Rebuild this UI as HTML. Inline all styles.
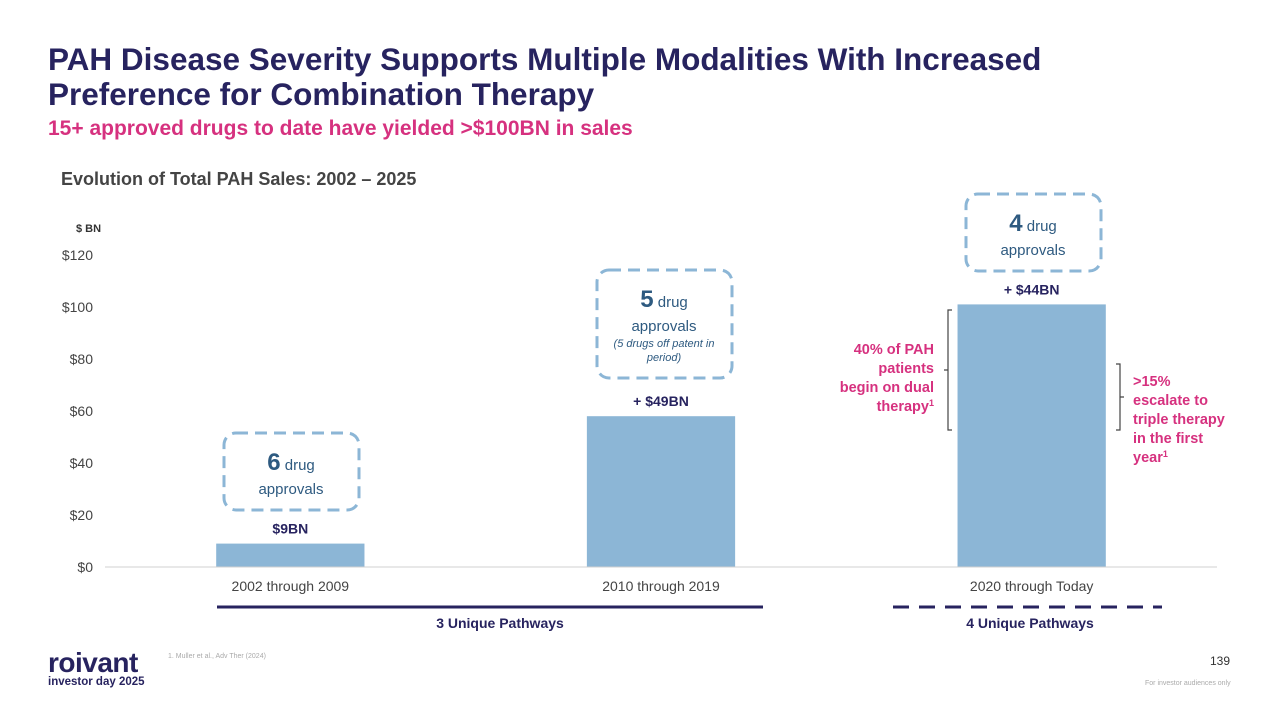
<!DOCTYPE html>
<html><head><meta charset="utf-8"><style>
body{margin:0;width:1280px;height:720px;background:#fff;font-family:"Liberation Sans",Arial,sans-serif;position:relative;overflow:hidden}
.a{position:absolute}
h1{position:absolute;left:48px;top:42px;margin:0;font-size:31.5px;line-height:35px;color:#27235f;font-weight:bold}
</style></head><body>
<h1>PAH Disease Severity Supports Multiple Modalities With Increased<br>Preference for Combination Therapy</h1>
<div class="a" style="left:48px;top:117px;font-size:21px;font-weight:bold;color:#d6317f">15+ approved drugs to date have yielded &gt;$100BN in sales</div>
<div class="a" style="left:61px;top:169px;font-size:18px;font-weight:bold;color:#444">Evolution of Total PAH Sales: 2002 – 2025</div>
<svg class="a" style="left:0;top:0" width="1280" height="720" id="chart" font-family="Liberation Sans, Arial, sans-serif">
<text x="76" y="232" font-size="11" font-weight="bold" fill="#333">$ BN</text>
<g id="yt"></g><g id="bars"></g>
<line x1="105" x2="1217" y1="567" y2="567" stroke="#d0d0d0"/>
<rect x="224" y="433" width="135" height="77" rx="12" fill="none" stroke="#8cb6d6" stroke-width="3" stroke-dasharray="12,7"/>
<text x="291" y="470" text-anchor="middle" fill="#2e5a80"><tspan font-size="24" font-weight="bold">6</tspan><tspan font-size="15"> drug</tspan><tspan x="291" dy="24" font-size="15">approvals</tspan></text>
<rect x="597" y="270" width="135" height="108" rx="12" fill="none" stroke="#8cb6d6" stroke-width="3" stroke-dasharray="12,7"/>
<text x="664" y="307" text-anchor="middle" fill="#2e5a80"><tspan font-size="24" font-weight="bold">5</tspan><tspan font-size="15"> drug</tspan><tspan x="664" dy="24" font-size="15">approvals</tspan><tspan x="664" dy="16" font-size="11" font-style="italic">(5 drugs off patent in</tspan><tspan x="664" dy="14" font-size="11" font-style="italic">period)</tspan></text>
<rect x="966" y="194" width="135" height="77" rx="12" fill="none" stroke="#8cb6d6" stroke-width="3" stroke-dasharray="12,7"/>
<text x="1033" y="231" text-anchor="middle" fill="#2e5a80"><tspan font-size="24" font-weight="bold">4</tspan><tspan font-size="15"> drug</tspan><tspan x="1033" dy="24" font-size="15">approvals</tspan></text>
<path d="M952 310 H948 V430 H952 M948 370 H944" fill="none" stroke="#444" stroke-width="1.2"/>
<path d="M1116 364 H1120 V430 H1116 M1120 397 H1124" fill="none" stroke="#444" stroke-width="1.2"/>
<text font-size="14.5" font-weight="bold" fill="#d6317f" text-anchor="end"><tspan x="934" y="354">40% of PAH</tspan><tspan x="934" dy="19">patients</tspan><tspan x="934" dy="19">begin on dual</tspan><tspan x="934" dy="19">therapy<tspan font-size="9" dy="-5">1</tspan></tspan></text>
<text font-size="14.5" font-weight="bold" fill="#d6317f"><tspan x="1133" y="386">&gt;15%</tspan><tspan x="1133" dy="19">escalate to</tspan><tspan x="1133" dy="19">triple therapy</tspan><tspan x="1133" dy="19">in the first</tspan><tspan x="1133" dy="19">year<tspan font-size="9" dy="-5">1</tspan></tspan></text>
<line x1="217" x2="763" y1="607" y2="607" stroke="#27235f" stroke-width="3"/>
<text x="500" y="628" text-anchor="middle" font-size="14" font-weight="bold" fill="#27235f">3 Unique Pathways</text>
<line x1="893" x2="1162" y1="607" y2="607" stroke="#27235f" stroke-width="3" stroke-dasharray="16,10"/>
<text x="1030" y="628" text-anchor="middle" font-size="14" font-weight="bold" fill="#27235f">4 Unique Pathways</text>
</svg>
<div class="a" style="left:48px;top:650px;color:#27235f;font-weight:bold">
<div style="font-size:28px;line-height:26px;letter-spacing:-0.5px">roivant</div>
<div style="font-size:11.5px;line-height:13px">investor day 2025</div></div>
<div class="a" style="left:168px;top:653px;font-size:7px;color:#aaa">1. Muller et al., Adv Ther (2024)</div>
<div class="a" style="left:1210px;top:654px;font-size:12px;color:#333">139</div>
<div class="a" style="left:1145px;top:680px;font-size:7px;color:#aaa">For investor audiences only</div>
<script>
const categories=["2002 through 2009","2010 through 2019","2020 through Today"];
const values=[9,58,101];
const valueLabels=["$9BN","+ $49BN","+ $44BN"];
const yTicks=[0,20,40,60,80,100,120];
const NS="http://www.w3.org/2000/svg";
const x0=105,x1=1217,yBase=567,yTop=255,yMax=120;
const band=(x1-x0)/categories.length;
function y(v){return yBase-(v/yMax)*(yBase-yTop);}
function xc(i){return x0+band*(i+0.5);}
function mk(tag,attrs,parent,txt){const e=document.createElementNS(NS,tag);for(const k in attrs)e.setAttribute(k,attrs[k]);if(txt!==undefined)e.textContent=txt;parent.appendChild(e);return e;}
const yt=document.getElementById('yt'),bars=document.getElementById('bars');
yTicks.forEach(t=>{const e=mk('text',{x:93,y:y(t)+5,'text-anchor':'end','font-size':14,fill:'#444'},yt,'$'+t);

});
categories.forEach((c,i)=>{const w=band*0.4;
const r=mk('rect',{x:xc(i)-w/2,y:y(values[i]),width:w,height:yBase-y(values[i]),fill:'#8cb6d6'},bars);


const l=mk('text',{x:xc(i),y:y(values[i])-10,'text-anchor':'middle','font-size':14,'font-weight':'bold',fill:'#27235f'},bars,valueLabels[i]);


const cl=mk('text',{x:xc(i),y:591,'text-anchor':'middle','font-size':14,fill:'#444'},bars,c);

});
</script>
</body></html>
